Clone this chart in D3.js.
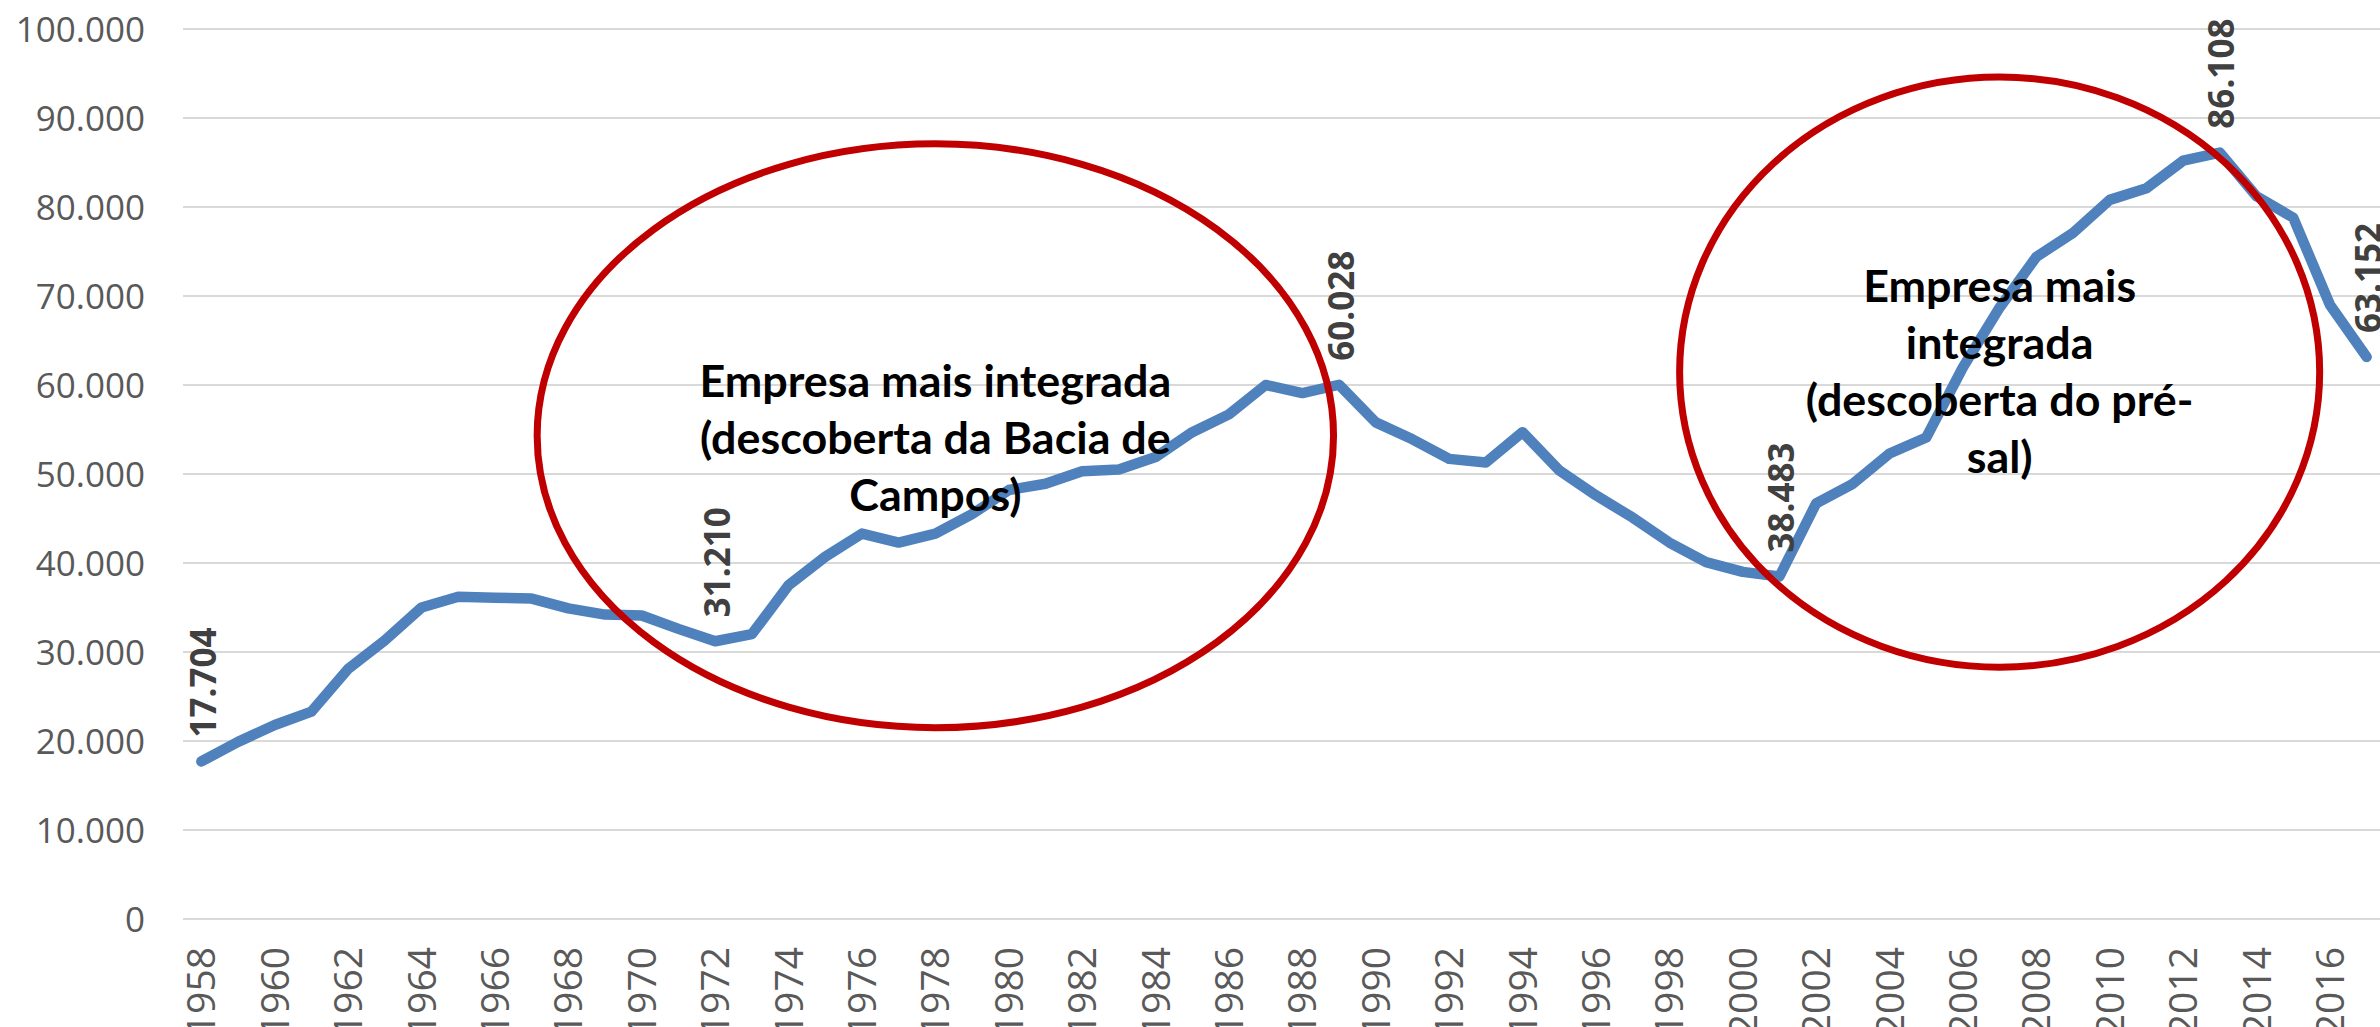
<!DOCTYPE html>
<html lang="pt">
<head>
  <meta charset="UTF-8">
  <title>Produção</title>
  <script src="https://cdn.jsdelivr.net/npm/d3@7"></script>
  <style>
    html, body { margin: 0; padding: 0; background: #fff; overflow: hidden; }
  </style>
</head>
<body>

<script>
  // data
  var years = d3.range(1958, 2018);
  var values = [
    17704, 19900, 21800, 23300, 28100, 31300, 35000, 36200, 36100, 36000,
    34900, 34200, 34100, 32600, 31210, 32000, 37500, 40700, 43300, 42300,
    43300, 45500, 48200, 48900, 50300, 50500, 51900, 54700, 56700, 60000,
    59100, 60028, 55800, 53900, 51700, 51300, 54700, 50400, 47600, 45100,
    42300, 40100, 39000, 38483, 46700, 48900, 52300, 54100, 62000, 68700,
    74400, 77100, 80800, 82100, 85200, 86108, 81200, 78800, 69000, 63152
  ];
  var labelYears = [1958, 1972, 1989, 2001, 2013, 2017];
  var yTicks = d3.range(0, 100001, 10000);
  var xTickYears = years.filter(function(y){ return (y - 1958) % 2 === 0; });

  // annotations (in data units: year, value)
  var notes = [
    {cx: 1978, cy: 54300, rx: 10.85, ry: 32800, ty: 58700,
     lines: ['Empresa mais integrada', '(descoberta da Bacia de', 'Campos)'], width: 472},
    {cx: 2007, cy: 61450, rx: 8.72, ry: 33150, ty: 69300,
     lines: ['Empresa mais', 'integrada', '(descoberta do pré-', 'sal)'], width: 273}
  ];

  var W = 2380, H = 1027;
  var fmt = d3.formatLocale({decimal: ',', thousands: '.', grouping: [3], currency: ['R$', '']}).format(',d');

  var svg = d3.select('body').append('svg').attr('width', W).attr('height', H);

  var x = d3.scaleBand().domain(years).range([183, 2385]);
  var xc = function(yr){ return x(yr) + x.bandwidth() / 2; };
  var y = d3.scaleLinear().domain([0, 100000]).range([919, 29]);
  var step = x.step();

  // gridlines
  svg.append('g').selectAll('line').data(yTicks).enter().append('line')
    .attr('x1', 183).attr('x2', W)
    .attr('y1', function(d){ return y(d); })
    .attr('y2', function(d){ return y(d); })
    .attr('stroke', '#d9d9d9').attr('stroke-width', 2);

  // y axis labels
  var yAxis = d3.axisLeft(y).tickValues(yTicks).tickFormat(fmt).tickSize(0).tickPadding(0);
  svg.append('g').attr('transform', 'translate(145,0)').call(yAxis)
    .call(function(g){ g.select('.domain').remove(); })
    .selectAll('text')
    .attr('fill', '#595959')
    .style('font-family', '"Open Sans", sans-serif')
    .style('font-size', '35px')
    .attr('dy', '0.36em');

  // x axis labels (rotated, clipped by the bottom edge like the original)
  svg.append('g').selectAll('text').data(xTickYears).enter().append('text')
    .attr('transform', function(d){ return 'translate(' + (xc(d) + 14) + ',947) rotate(-90)'; })
    .attr('text-anchor', 'end')
    .attr('fill', '#595959')
    .style('font-family', '"Open Sans", sans-serif')
    .style('font-size', '39px')
    .text(function(d){ return d; });

  // line
  var line = d3.line()
    .x(function(d, i){ return xc(years[i]); })
    .y(function(d){ return y(d); });
  svg.append('path').datum(values)
    .attr('d', line)
    .attr('fill', 'none')
    .attr('stroke', '#4f81bd')
    .attr('stroke-width', 10.5)
    .attr('stroke-linejoin', 'round')
    .attr('stroke-linecap', 'round');

  // ellipses
  svg.append('g').selectAll('ellipse').data(notes).enter().append('ellipse')
    .attr('cx', function(d){ return xc(d.cx); })
    .attr('cy', function(d){ return y(d.cy); })
    .attr('rx', function(d){ return d.rx * step; })
    .attr('ry', function(d){ return y(0) - y(d.ry); })
    .attr('fill', 'none')
    .attr('stroke', '#c00000')
    .attr('stroke-width', 7);

  // annotation text
  notes.forEach(function(n){
    var cx = xc(n.cx), ty = y(n.ty);
    var g = svg.append('g');
    var t = g.append('text')
      .attr('text-anchor', 'middle')
      .attr('fill', '#000')
      .style('font-family', 'Lato, "Open Sans", sans-serif')
      .style('font-weight', 'bold')
      .style('font-size', '43px');
    t.selectAll('tspan').data(n.lines).enter().append('tspan')
      .attr('x', 0)
      .attr('y', function(d, i){ return i * 57; })
      .text(function(d){ return d; });
    var w = t.select('tspan').node().getComputedTextLength();
    var s = n.width / w;
    g.attr('transform', 'translate(' + cx + ',' + ty + ') scale(' + s + ',1)');
  });

  // data labels
  svg.append('g').selectAll('text').data(labelYears).enter().append('text')
    .attr('transform', function(d){
      var v = values[years.indexOf(d)];
      return 'translate(' + (xc(d) + 2) + ',' + (y(v) - 24) + ') rotate(-90)';
    })
    .attr('dy', '0.36em')
    .attr('fill', '#404040')
    .style('font-family', '"Open Sans", sans-serif')
    .style('font-weight', 'bold')
    .style('font-size', '35px')
    .text(function(d){ return fmt(values[years.indexOf(d)]); });
</script>

</body>
</html>
